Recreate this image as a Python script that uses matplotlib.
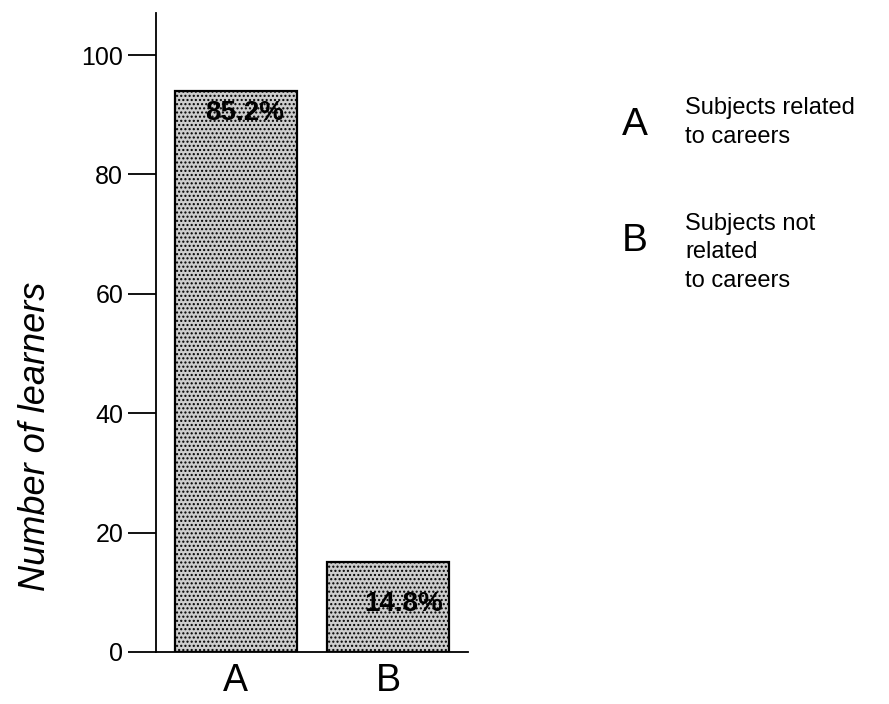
import matplotlib.pyplot as plt

plt.rcParams['font.family'] = ['Liberation Sans', 'DejaVu Sans']
plt.rcParams['hatch.color'] = '#555555'

# data
categories = ['A', 'B']
learners = [94, 15]
shares = ['85.2%', '14.8%']
legend_keys = ['A', 'B']
legend_texts = ['Subjects related\nto careers', 'Subjects not\nrelated\nto careers']

fig = plt.figure(figsize=(8.89, 7.04), dpi=100)
ax = fig.add_axes([0.176, 0.074, 0.350, 0.907])

x = range(len(categories))
ax.bar(x, learners, width=0.8, color='#cdcdcd', edgecolor='black',
       linewidth=1.6, hatch='....', zorder=2)

# percentage labels inside the bars
for i, (v, s) in enumerate(zip(learners, shares)):
    if v > 50:
        ax.text(i + 0.06, v - 1.5, s, ha='center', va='top', fontsize=20,
                fontweight='bold', zorder=3)
    else:
        ax.text(i + 0.1, v / 2 + 0.5, s, ha='center', va='center', fontsize=20,
                fontweight='bold', zorder=3)

ax.set_xlim(-0.52, 1.52)
ax.set_ylim(0, 107)
ax.set_yticks([0, 20, 40, 60, 80, 100])
ax.set_xticks(list(x))
ax.set_xticklabels(categories, fontsize=27)
ax.tick_params(axis='y', direction='out', length=20, width=1.3, labelsize=18, pad=4)
ax.tick_params(axis='x', length=0, pad=8)
ax.spines['top'].set_visible(False)
ax.spines['right'].set_visible(False)
ax.spines['left'].set_linewidth(1.3)
ax.spines['bottom'].set_linewidth(1.3)

fig.text(0.040, 0.38, 'Number of learners', rotation=90, ha='center', va='center',
         fontsize=26, style='italic')

# key on the right
key_y = [0.822, 0.658]
for k, t, yy in zip(legend_keys, legend_texts, key_y):
    fig.text(0.714, yy, k, ha='center', va='center', fontsize=28)
    fig.text(0.771, yy + 0.040, t, ha='left', va='top', fontsize=17,
             linespacing=1.4)

fig.savefig('out.png', dpi=100)
